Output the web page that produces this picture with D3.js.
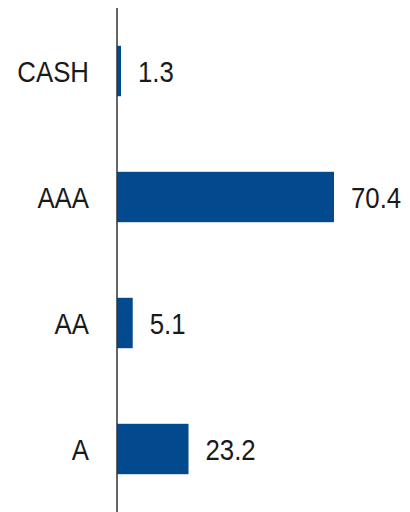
<!DOCTYPE html>
<html>
<head>
<script src="https://d3js.org/d3.v7.min.js"></script>
<style>
	body { margin: 0; background: #fff; }
	text { font-family: "Liberation Sans", Arial, sans-serif; font-size: 30px; fill: #1a1a1a; }
</style>
</head>
<body>
<script>
	var categories = ["CASH", "AAA", "AA", "A"];
	var values = [1.3, 70.4, 5.1, 23.2];

	var w = 410, h = 512;
	var x0 = 117;
	var squeeze = 0.86; // narrow font look

	var svg = d3.select("body").append("svg").attr("width", w).attr("height", h);

	var xScale = d3.scaleLinear().domain([0, 70.4]).range([x0, 334]);
	var yScale = d3.scaleBand().domain(categories).range([8, 512]).paddingInner(0.6).paddingOuter(0.3);

	var data = categories.map(function(c, i) { return {cat: c, val: values[i]}; });

	svg.selectAll("rect")
		.data(data)
		.enter()
		.append("rect")
		.attr("x", xScale(0))
		.attr("y", function(d) { return yScale(d.cat); })
		.attr("width", function(d) { return xScale(d.val) - xScale(0); })
		.attr("height", yScale.bandwidth())
		.attr("fill", "#03498e");

	var baseY = function(d) { return yScale(d.cat) + yScale.bandwidth() / 2 + 11; };

	// category labels
	svg.selectAll(".cat")
		.data(data)
		.enter()
		.append("text")
		.attr("class", "cat")
		.attr("transform", function(d) { return "translate(" + (x0 - 28) + "," + baseY(d) + ") scale(" + squeeze + ",1)"; })
		.attr("text-anchor", "end")
		.text(function(d) { return d.cat; });

	// value labels
	svg.selectAll(".val")
		.data(data)
		.enter()
		.append("text")
		.attr("class", "val")
		.attr("transform", function(d) { return "translate(" + (xScale(d.val) + 17) + "," + baseY(d) + ") scale(" + squeeze + ",1)"; })
		.text(function(d) { return d.val.toFixed(1); });

	// vertical axis line
	svg.append("line")
		.attr("x1", x0).attr("x2", x0)
		.attr("y1", 8).attr("y2", h)
		.attr("stroke", "#333")
		.attr("stroke-width", 1.5);
</script>
</body>
</html>
